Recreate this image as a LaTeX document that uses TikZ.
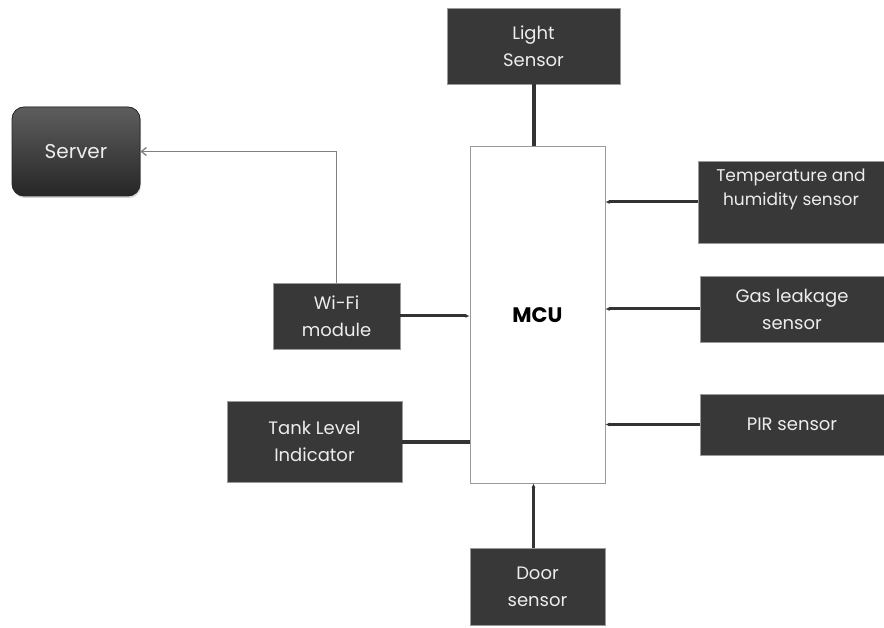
\documentclass[tikz,border=0pt]{standalone}
\usepackage{fontspec}
\setmainfont{Poppins}
\usepackage{xcolor}
\definecolor{BoxFill}{HTML}{383838}
\definecolor{BoxLine}{HTML}{9A9A9A}
\definecolor{BoxText}{HTML}{EDEDED}
\definecolor{WireDark}{HTML}{333333}
\definecolor{WireGray}{HTML}{808080}
\definecolor{SrvTop}{HTML}{5E5E5E}
\definecolor{SrvBot}{HTML}{262626}
\usetikzlibrary{positioning,calc,arrows.meta,shadows}
\tikzset{
  blk/.style={draw=BoxLine,fill=BoxFill,line width=0.8pt,align=center,
    text=BoxText,font=\fontsize{18}{27}\selectfont,inner sep=2pt},
  srv/.style={blk,rounded corners=12pt,draw=SrvBot,top color=SrvTop,bottom color=SrvBot,
    font=\fontsize{20}{27}\selectfont,
    drop shadow={shadow xshift=1pt,shadow yshift=-2pt,opacity=0.35}},
  mcubox/.style={draw=BoxLine,fill=white,line width=1pt,
    font=\fontsize{21}{24}\selectfont\bfseries,text=black},
  link/.style={-{Latex[length=4pt,width=4pt]},draw=WireDark,line width=3pt},
  bar/.style={draw=WireDark,line width=4pt},
  net/.style={-{Straight Barb[length=5pt,width=8pt]},draw=WireGray,line width=1.3pt},
}

\begin{document}
\begin{tikzpicture}[x=1pt,y=-1pt]
\useasboundingbox (0,0) rectangle (884,628);
% MCU in the middle
\node[mcubox,minimum width=135pt,minimum height=336pt] (mcu) at (537.5,315) {MCU};
% inputs and outputs
\node[blk,minimum width=173pt,minimum height=76pt] (light) at (533.5,46) {Light\\Sensor};
\node[blk,minimum width=186pt,minimum height=82pt,font=\fontsize{17}{24}\selectfont]
  (temp) at (791,202) {Temperature and\\humidity sensor\\[6pt]};
\node[blk,minimum width=184pt,minimum height=66pt] (gas) at (792,309) {Gas leakage\\sensor};
\node[blk,minimum width=184pt,minimum height=61pt] (pir) at (792,424.5) {PIR sensor};
\node[blk,minimum width=135pt,minimum height=77pt] (door) at (537.5,586.5) {Door\\sensor};
\node[blk,minimum width=175pt,minimum height=81pt] (tank) at (314.5,441.5) {Tank Level\\Indicator};
\node[blk,minimum width=127pt,minimum height=66pt] (wifi) at (336.5,316) {Wi-Fi\\module};
\node[srv,minimum width=128pt,minimum height=89pt] (server) at (76,151.5) {Server};

\draw[bar] (light.south) -- (light.south |- mcu.north);
\draw[link] (temp.west) -- (temp.west -| mcu.east);
\draw[link] (gas.west) -- (gas.west -| mcu.east);
\draw[link] (pir.west) -- (pir.west -| mcu.east);
\draw[link] ([xshift=-4pt]door.north) -- ([xshift=-4pt]mcu.south);
\draw[bar] (tank.east) -- (tank.east -| mcu.west);
\draw[link] (wifi.east) -- (wifi.east -| mcu.west);
\draw[net] (wifi.north) |- (server.east);
\end{tikzpicture}
\end{document}
